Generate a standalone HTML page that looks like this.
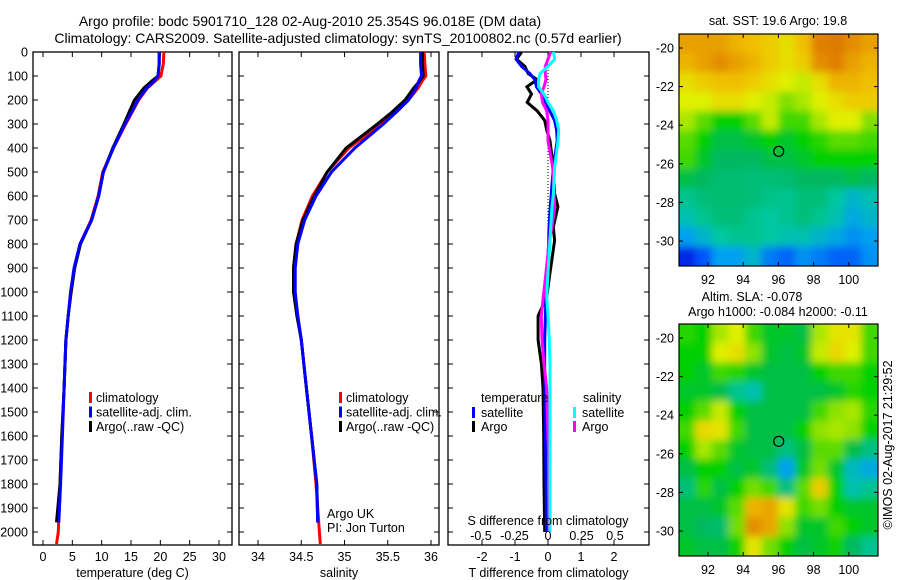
<!DOCTYPE html>
<html><head><meta charset="utf-8"><style>
body{margin:0;background:#fff}
svg{display:block;font-family:"Liberation Sans",sans-serif}
text{font-size:12.5px;fill:#000}
</style></head><body>
<svg id="fig" width="900" height="580" viewBox="0 0 900 580">
<rect width="900" height="580" fill="#fff"/>
<text x="310" y="26" text-anchor="middle" style="font-size:14px">Argo profile: bodc 5901710_128 02-Aug-2010 25.354S 96.018E (DM data)</text>
<text x="338" y="43" text-anchor="middle" style="font-size:14px">Climatology: CARS2009. Satellite-adjusted climatology: synTS_20100802.nc (0.57d earlier)</text>
<g id="p1"></g>
<g id="p2"></g>
<g id="p3"></g>
<g id="m1"></g>
<g id="m2"></g>
<text x="778" y="25" text-anchor="middle">sat. SST: 19.6 Argo: 19.8</text>
<text x="752" y="301" text-anchor="middle">Altim. SLA: -0.078</text>
<text x="778" y="316" text-anchor="middle">Argo h1000: -0.084 h2000: -0.11</text>
<text transform="translate(892,445) rotate(-90)" text-anchor="middle">©IMOS 02-Aug-2017 21:29:52</text>
</svg>
<script>
const depthClim=[0,50,100,120,150,200,250,300,400,500,600,700,800,900,1000,1100,1200,1400,1600,1800,2000,2050];
const depthArgo=[0,50,100,120,150,200,250,300,400,500,600,700,800,900,1000,1100,1200,1400,1600,1800,1960];
const tClim=[20.6,20.5,20.1,19.2,17.8,16.3,15.2,14.1,12.0,10.2,9.4,8.2,6.3,5.3,4.7,4.3,3.9,3.6,3.2,2.9,2.6,2.3];
const tSat=[19.8,19.8,19.6,19.0,17.7,16.2,15.1,14.0,12.0,10.3,9.5,8.3,6.3,5.3,4.7,4.3,3.9,3.6,3.3,3.0,2.7];
const tArgo=[19.8,19.8,19.6,18.6,17.2,15.6,14.7,13.8,11.9,10.3,9.5,8.3,6.4,5.4,4.8,4.3,3.9,3.6,3.2,2.9,2.3];
const sClim=[35.92,35.93,35.94,35.9,35.85,35.74,35.6,35.42,35.05,34.8,34.63,34.51,34.44,34.41,34.42,34.46,34.5,34.56,34.62,34.67,34.71,34.72];
const sSat=[35.88,35.88,35.89,35.86,35.83,35.74,35.6,35.45,35.12,34.85,34.67,34.54,34.46,34.43,34.43,34.46,34.5,34.56,34.62,34.68,34.69];
const sArgo=[35.9,35.9,35.91,35.87,35.8,35.7,35.55,35.38,35.02,34.8,34.65,34.52,34.44,34.41,34.41,34.45,34.5,34.56,34.62,34.68,34.69];
const dDepth=[0,30,60,90,115,145,175,210,245,285,325,370,480,590,645,730,785,920,1020,1100,1200,1300,1400,1600,1800,2000];
const dTArgo=[-0.8,-0.95,-0.7,-0.6,-0.33,-0.64,-0.5,-0.63,-0.33,-0.1,-0.04,0.06,0.16,0.2,0.3,0.16,0.2,0.06,-0.04,-0.3,-0.3,-0.2,-0.15,-0.13,-0.12,-0.1];
const dTSat=[-0.88,-0.97,-0.8,-0.55,-0.4,-0.35,-0.2,-0.1,0.05,0.2,0.26,0.28,0.16,0.1,0.07,0.03,0.02,-0.02,-0.06,-0.08,-0.1,-0.1,-0.1,-0.08,-0.06,-0.05];
const dSSat=[0.04,0.05,0.0,-0.06,-0.07,-0.07,-0.03,0.0,0.04,0.065,0.08,0.075,0.05,0.04,0.03,0.02,0.015,0.0,-0.01,0.0,0.01,0.015,0.015,0.015,0.015,0.015];
const dSArgo=[0.02,0.0,-0.02,-0.02,-0.015,-0.03,-0.05,-0.04,-0.01,0.0,0.0,0.0,0.035,0.045,0.05,0.03,0.01,-0.015,-0.035,-0.05,-0.045,-0.03,-0.01,0.0,0.01,0.01];
const depthTicks=[0,100,200,300,400,500,600,700,800,900,1000,1100,1200,1300,1400,1500,1600,1700,1800,1900,2000];
const tTicks=[0,5,10,15,20,25,30];
const sTicks=[34,34.5,35,35.5,36];
const dTTicks=[-2,-1,0,1,2];
const dSTicks=[-0.5,-0.25,0,0.25,0.5];
const sstGrid=[
[.85,.85,.85,.82,.8,.78,.75,.8,.9,.92,.88,.85],
[.82,.85,.88,.85,.82,.78,.75,.78,.88,.9,.85,.82],
[.75,.78,.8,.8,.78,.75,.72,.7,.75,.82,.82,.8],
[.72,.72,.75,.75,.72,.7,.65,.68,.72,.75,.78,.78],
[.68,.62,.55,.55,.62,.7,.6,.6,.68,.72,.72,.65],
[.62,.55,.5,.5,.52,.55,.52,.55,.58,.62,.62,.6],
[.6,.52,.48,.48,.48,.5,.5,.52,.55,.55,.55,.55],
[.5,.48,.46,.46,.45,.45,.46,.48,.48,.48,.5,.48],
[.42,.45,.46,.46,.45,.43,.42,.45,.45,.4,.35,.38],
[.38,.42,.45,.45,.42,.4,.42,.45,.42,.38,.32,.35],
[.3,.35,.4,.42,.42,.4,.38,.38,.35,.32,.28,.3],
[.12,.2,.3,.3,.35,.25,.22,.28,.25,.22,.22,.28]];
const slaGrid=[
[.58,.55,.68,.72,.6,.52,.52,.5,.68,.74,.74,.6],
[.55,.55,.72,.75,.66,.52,.5,.52,.7,.76,.72,.6],
[.55,.52,.6,.58,.52,.5,.5,.5,.55,.6,.6,.55],
[.52,.52,.5,.42,.38,.5,.5,.5,.5,.52,.58,.55],
[.55,.62,.7,.55,.5,.5,.5,.5,.6,.66,.68,.58],
[.6,.76,.74,.6,.5,.5,.5,.55,.66,.68,.66,.55],
[.55,.68,.62,.52,.5,.5,.44,.5,.62,.62,.5,.44],
[.5,.55,.55,.5,.52,.45,.3,.52,.64,.52,.36,.32],
[.45,.58,.5,.55,.64,.6,.44,.62,.78,.55,.38,.42],
[.5,.5,.52,.62,.82,.84,.74,.6,.64,.55,.52,.52],
[.5,.48,.46,.64,.88,.84,.66,.52,.52,.6,.55,.52],
[.52,.5,.5,.56,.74,.64,.55,.5,.52,.56,.48,.42]];
const latTicks=[-20,-22,-24,-26,-28,-30];
const lonTicks=[92,94,96,98,100];
const argoLon=96.018, argoLat=-25.354;

const NS='http://www.w3.org/2000/svg';
function mk(tag,attrs,parent,txt){const e=document.createElementNS(NS,tag);for(const k in attrs)e.setAttribute(k,attrs[k]);if(txt!==undefined)e.textContent=txt;parent.appendChild(e);return e;}
const yD=d=>52+d*0.24;
const xT=t=>43+t*5.867, xS=s=>258+(s-34)*86.5, xdT=d=>548+d*33, xdS=d=>548+d*134;
const TOP=52,BOT=545;

function frame(g,x0,x1,xs,fx,lab,labels){
  const r=mk('rect',{x:x0,y:TOP,width:x1-x0,height:BOT-TOP,fill:'none',stroke:'#000','stroke-width':1.3},g);
  
  depthTicks.forEach(d=>{mk('line',{x1:x0,x2:x0+5,y1:yD(d),y2:yD(d),stroke:'#000'},g);mk('line',{x1:x1-5,x2:x1,y1:yD(d),y2:yD(d),stroke:'#000'},g);
    if(labels){const t=mk('text',{x:28,y:yD(d)+4.5,'text-anchor':'end'},g,String(d));}});
  xs.forEach(v=>{const x=fx(v);mk('line',{x1:x,x2:x,y1:BOT,y2:BOT-5,stroke:'#000'},g);mk('line',{x1:x,x2:x,y1:TOP,y2:TOP+5,stroke:'#000'},g);
    const t=mk('text',{x:x,y:561,'text-anchor':'middle'},g,String(v));});
  const t=mk('text',{x:(x0+x1)/2,y:577,'text-anchor':'middle'},g,lab);
}
function line(g,vals,deps,fx,col,name,w){
  const pts=vals.map((v,i)=>fx(v).toFixed(1)+','+yD(deps[i]).toFixed(1)).join(' ');
  const p=mk('polyline',{points:pts,fill:'none',stroke:col,'stroke-width':w||3,'stroke-linejoin':'miter'},g);
  
}
function legend(g,x,items){
  items.forEach((it,i)=>{const y=398+i*14.5;mk('rect',{x:x,y:y-6,width:3,height:11,fill:it[1]},g);
    const t=mk('text',{x:x+7,y:y+4},g,it[0]);});
}
const p1=document.getElementById('p1');
frame(p1,33,232,tTicks,xT,'temperature (deg C)',true);
line(p1,tClim,depthClim,xT,'#f00','temp-climatology-line');
line(p1,tArgo,depthArgo,xT,'#000','temp-argo-line');
line(p1,tSat,depthArgo,xT,'#00f','temp-satellite-line');
legend(p1,89,[['climatology','#f00'],['satellite-adj. clim.','#00f'],['Argo(..raw -QC)','#000']]);
const p2=document.getElementById('p2');
frame(p2,239,439,sTicks,xS,'salinity',false);
line(p2,sClim,depthClim,xS,'#f00','sal-climatology-line');
line(p2,sArgo,depthArgo,xS,'#000','sal-argo-line');
line(p2,sSat,depthArgo,xS,'#00f','sal-satellite-line');
legend(p2,339,[['climatology','#f00'],['satellite-adj. clim.','#00f'],['Argo(..raw -QC)','#000']]);
mk('text',{x:327,y:518},p2,'Argo UK');mk('text',{x:327,y:532},p2,'PI: Jon Turton');
const p3=document.getElementById('p3');
frame(p3,448,649,dTTicks,xdT,'T difference from climatology',false);
mk('line',{x1:548,x2:548,y1:TOP,y2:yD(1000),stroke:'#000','stroke-dasharray':'1,2'},p3);
line(p3,dTArgo,dDepth,xdT,'#000','dt-argo-line');
line(p3,dTSat,dDepth,xdT,'#00f','dt-satellite-line');
line(p3,dSArgo,dDepth,xdS,'#f0f','ds-argo-line');
line(p3,dSSat,dDepth,xdS,'#0ff','ds-satellite-line');
dSTicks.forEach(v=>{const t=mk('text',{x:xdS(v),y:540,'text-anchor':'middle'},p3,String(v));});
mk('text',{x:548,y:525,'text-anchor':'middle'},p3,'S difference from climatology');
mk('text',{x:481,y:402},p3,'temperature');mk('text',{x:583,y:402},p3,'salinity');
[['satellite','#00f',472],['Argo','#000',472]].forEach((it,i)=>{const y=413+i*14;mk('rect',{x:it[2],y:y-6,width:3,height:11,fill:it[1]},p3);mk('text',{x:it[2]+9,y:y+4},p3,it[0]);});
[['satellite','#0ff',573],['Argo','#f0f',573]].forEach((it,i)=>{const y=413+i*14;mk('rect',{x:it[2],y:y-6,width:3,height:11,fill:it[1]},p3);mk('text',{x:it[2]+9,y:y+4},p3,it[0]);});
const stops=[[0,[0,0,128]],[0.15,[0,48,255]],[0.3,[0,160,240]],[0.4,[0,200,160]],[0.48,[0,184,96]],[0.55,[0,208,0]],[0.65,[128,224,0]],[0.72,[224,240,0]],[0.8,[240,192,0]],[0.9,[224,128,0]],[1,[208,96,0]]];
function cmap(v){for(let i=1;i<stops.length;i++){if(v<=stops[i][0]){const a=stops[i-1],b=stops[i],f=(v-a[0])/(b[0]-a[0]);return 'rgb('+a[1].map((c,k)=>Math.round(c+(b[1][k]-c)*f)).join(',')+')';}}return 'rgb(208,96,0)';}
function map(id,grid,y0,blur){
  const g=document.getElementById(id);const x0=679,x1=878,y1=y0+232;
  const lonX=l=>708+(l-92)*17.6, latY=la=>y0+14+(-20-la)*19.3;
  const cw=(x1-x0)/grid[0].length,ch=(y1-y0)/grid.length;
  const cid='clip'+id;const cp=mk('clipPath',{id:cid},g);mk('rect',{x:x0,y:y0,width:x1-x0,height:y1-y0},cp);
  const gg=mk('g',{'clip-path':'url(#'+cid+')'},g);
  const f=mk('filter',{id:'bl'+id,x:'-10%',y:'-10%',width:'120%',height:'120%'},g);mk('feGaussianBlur',{stdDeviation:blur},f);
  const tgt=mk('g',{filter:'url(#bl'+id+')'},gg);
  grid.forEach((row,r)=>row.forEach((v,c)=>{const e=mk('rect',{x:x0+c*cw-0.3-(c==0?12:0),y:y0+r*ch-0.3-(r==0?12:0),width:cw+0.6+(c==0||c==row.length-1?12:0),height:ch+0.6+(r==0||r==grid.length-1?12:0),fill:cmap(v)},tgt);
    }));
  mk('rect',{x:x0,y:y0,width:x1-x0,height:y1-y0,fill:'none',stroke:'#000','stroke-width':1.2},g);
  latTicks.forEach(la=>{const y=latY(la);mk('line',{x1:x0,x2:x0+4,y1:y,y2:y,stroke:'#000'},g);mk('line',{x1:x1-4,x2:x1,y1:y,y2:y,stroke:'#000'},g);
    const t=mk('text',{x:674,y:y+4.5,'text-anchor':'end'},g,String(la));});
  lonTicks.forEach(l=>{const x=lonX(l);mk('line',{x1:x,x2:x,y1:y1,y2:y1-4,stroke:'#000'},g);mk('line',{x1:x,x2:x,y1:y0,y2:y0+4,stroke:'#000'},g);
    const t=mk('text',{x:x,y:y1+18,'text-anchor':'middle'},g,String(l));});
  const c=mk('circle',{cx:lonX(argoLon),cy:latY(argoLat),r:5,fill:'none',stroke:'#000','stroke-width':1.2},g);
  
}
map('m1',sstGrid,34,4);
map('m2',slaGrid,324,4);
</script>
</body></html>
